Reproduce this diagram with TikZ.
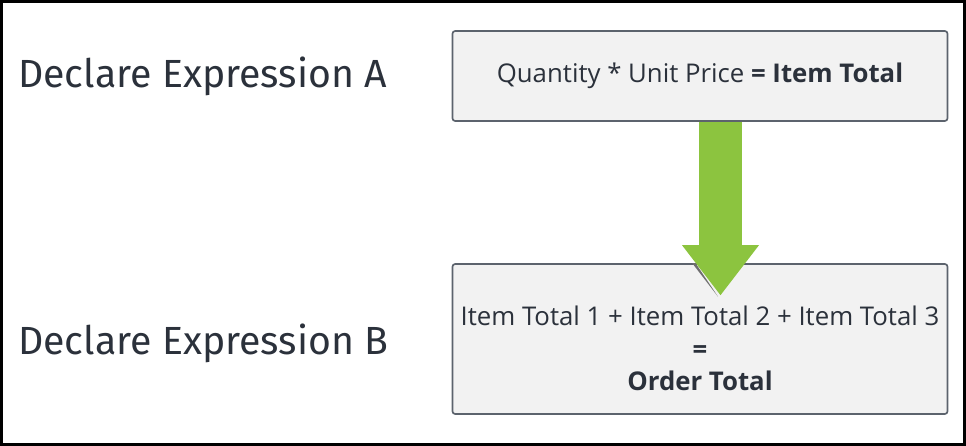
\documentclass[tikz,border=0pt]{standalone}
\usepackage{fontspec}
\setmainfont{Open Sans}
\newfontfamily\labelfont{Fira Sans}
\usetikzlibrary{arrows.meta, calc}

\definecolor{textdark}{HTML}{2B313B}
\definecolor{boxfill}{HTML}{F2F2F2}
\definecolor{boxline}{HTML}{5C636D}
\definecolor{arrowgreen}{HTML}{8CC43F}
\definecolor{shadowgray}{HTML}{6F6F6F}

\tikzset{
  exprbox/.style={draw=boxline, line width=0.05cm, fill=boxfill, rounded corners=0.08cm,
    minimum width=14.85cm, text=textdark, align=center, inner sep=0pt},
  exprlabel/.style={anchor=west, text=textdark, font=\labelfont\fontsize{33.5}{40}\selectfont, inner sep=0pt}
}

\begin{document}
\begin{tikzpicture}[x=0.03cm, y=0.03cm]
\useasboundingbox (0,0) rectangle (966,446);
%frame
\draw[line width=0.09cm] (1.5,1.5) rectangle (964.5,444.5);

%labels
\node[exprlabel] (labA) at (18,370) {Declare Expression A};
\node[exprlabel] (labB) at (18,103) {Declare Expression B};

%boxes
\node[exprbox, minimum height=2.7cm, font=\fontsize{22}{26}\selectfont] (boxA) at (700,370)
  {Quantity * Unit Price \textbf{= Item Total}};
\node[exprbox, minimum height=4.5cm, font=\fontsize{22}{28}\selectfont] (boxB) at (700,107)
  {\rule{0pt}{1.15cm}Item Total 1 + Item Total 2 + Item Total 3\\ \textbf{=}\\ \textbf{Order Total}};

%arrow
\coordinate (start) at ($(boxA.south)+(20.5,0)$);
\coordinate (tip) at ($(boxB.north)+(20.5,-32)$);
\begin{scope}
\clip (boxB.north west) rectangle (boxB.south east);
\fill[shadowgray] ($(tip)+(-2.5,-1.5)$) -- ($(tip)+(-41,48.5)$) -- ($(tip)+(-36,48.5)$) -- cycle;
\end{scope}
\draw[arrowgreen, line width=1.29cm, -{Triangle[length=1.5cm, width=2.31cm, line width=0pt]}] (start) -- (tip);

\end{tikzpicture}
\end{document}
